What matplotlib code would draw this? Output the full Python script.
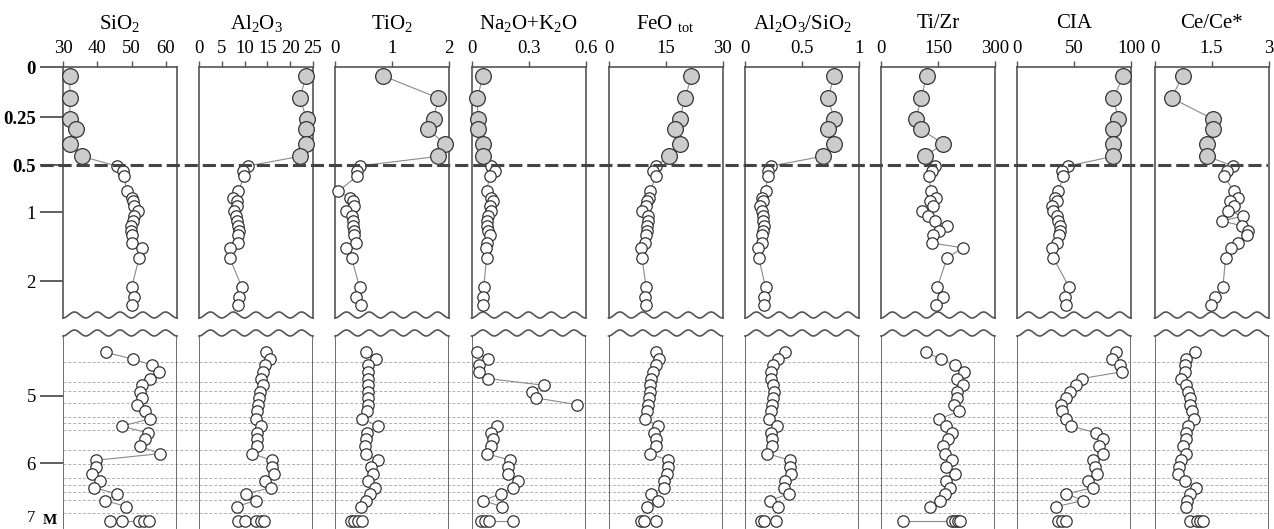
import numpy as np
import matplotlib
matplotlib.use("Agg")
import matplotlib.pyplot as plt

plt.rcParams['font.family'] = ['Liberation Serif', 'DejaVu Serif']
plt.rcParams['mathtext.fontset'] = 'custom'
plt.rcParams['mathtext.rm'] = 'Liberation Serif'
plt.rcParams['mathtext.it'] = 'Liberation Serif:italic'
plt.rcParams['mathtext.bf'] = 'Liberation Serif:bold'

# column headers, x ranges and top ticks
titles = ['SiO$_2$', 'Al$_2$O$_3$', 'TiO$_2$', 'Na$_2$O+K$_2$O', 'FeO $_{\\mathrm{tot}}$',
          'Al$_2$O$_3$/SiO$_2$', 'Ti/Zr', 'CIA', 'Ce/Ce*']
xlims = [(30, 63.2), (0, 25), (0, 2), (0, 0.6), (0, 30), (0, 1), (0, 300), (0, 100), (0, 3)]
xticks = [[30, 40, 50, 60], [0, 5, 10, 15, 20, 25], [0, 1, 2], [0, 0.3, 0.6], [0, 15, 30],
          [0, 0.5, 1], [0, 150, 300], [0, 50, 100], [0, 1.5, 3]]
xticklabels = [['30', '40', '50', '60'], ['0', '5', '10', '15', '20', '25'], ['0', '1', '2'],
               ['0', '0.3', '0.6'], ['0', '15', '30'], ['0', '0.5', '1'], ['0', '150', '300'],
               ['0', '50', '100'], ['0', '1.5', '3']]

# sample depths, m
top_depth = [0.045, 0.155, 0.26, 0.315, 0.39, 0.455]
mid_depth = [0.51, 0.56, 0.62, 0.78, 0.85, 0.88, 0.94, 0.99, 1.06, 1.13, 1.20, 1.27, 1.34,
             1.45, 1.52, 1.66, 2.09, 2.23, 2.35]
low_depth = [4.35, 4.45, 4.54, 4.64, 4.74, 4.84, 4.94, 5.03, 5.13, 5.23, 5.34, 5.45, 5.55,
             5.64, 5.75, 5.86, 5.96, 6.06, 6.16, 6.27, 6.37, 6.46, 6.56, 6.65]
m_depth = 6.87
grid_depth = [4.50, 4.79, 4.92, 5.10, 5.31, 5.41, 5.51, 5.80, 6.01, 6.23, 6.33, 6.44, 6.55, 6.74]

nan = np.nan

sio2_top = [32.0, 32.0, 32.0, 33.7, 32.0, 35.4]
sio2_mid = [45.6, 47.4, 47.8, 48.6, 50.0, 50.3, 50.6, 51.8, 50.8, 50.3, 49.7, 49.9, 50.0,
            50.2, 53.1, 52.2, 50.0, 50.7, 50.2]
sio2_low = [42.5, 50.5, 56.0, 58.1, 55.2, 52.9, 52.4, 52.9, 51.5, 53.9, 55.4, 47.1, 54.7,
            53.9, 52.4, 58.3, 39.5, 39.5, 38.4, 40.8, 39.1, 45.8, 42.3, 48.4]
sio2_m = [43.7, 47.3, 52.2, 53.5, 55.0]

al2o3_top = [23.5, 22.1, 23.6, 23.5, 23.5, 22.1]
al2o3_mid = [10.8, 9.7, 9.9, 8.6, 7.5, 8.4, 8.3, 7.7, 8.1, 8.4, 8.6, 8.8, 8.5, 8.6, 6.8,
             6.7, 9.4, 8.8, 8.6]
al2o3_low = [14.8, 15.6, 14.5, 14.0, 13.5, 14.0, 13.4, 13.2, 13.0, 12.8, 12.5, 13.7, 12.8,
             12.8, 12.8, 11.7, 15.9, 15.9, 16.4, 14.5, 15.7, 10.3, 12.4, 8.3]
al2o3_m = [8.6, 10.0, 12.6, 13.6, 14.2]

tio2_top = [0.85, 1.81, 1.73, 1.63, 1.93, 1.81]
tio2_mid = [0.43, 0.39, 0.38, 0.06, 0.27, 0.32, 0.34, 0.20, 0.29, 0.32, 0.32, 0.34, 0.34,
            0.37, 0.20, 0.29, 0.43, 0.37, 0.45]
tio2_low = [0.54, 0.72, 0.58, 0.58, 0.58, 0.58, 0.58, 0.58, 0.58, 0.56, 0.47, 0.76, 0.56,
            0.54, 0.53, 0.54, 0.76, 0.64, 0.67, 0.58, 0.70, 0.61, 0.54, 0.45]
tio2_m = [0.28, 0.34, 0.41, 0.47]

alk_top = [0.061, 0.030, 0.035, 0.035, 0.058, 0.061]
alk_mid = [0.105, 0.123, 0.096, 0.079, 0.105, 0.111, 0.096, 0.100, 0.088, 0.084, 0.079,
           0.088, 0.096, 0.079, 0.075, 0.079, 0.065, 0.061, 0.061]
alk_low = [0.030, 0.088, 0.040, 0.040, 0.088, 0.381, 0.316, 0.342, 0.556, nan, nan, 0.132,
           0.105, 0.111, 0.105, 0.079, 0.205, 0.193, 0.193, 0.246, 0.219, 0.153, 0.061, 0.158]
alk_m = [0.05, 0.07, 0.09, 0.22]

feo_top = [21.8, 20.2, 18.7, 17.4, 18.7, 15.9]
feo_mid = [12.5, 11.7, 12.4, 11.0, 10.6, 10.1, 9.9, 8.8, 10.4, 10.4, 10.2, 10.1, 9.9, 9.5,
           8.6, 8.8, 9.9, 9.6, 9.9]
feo_low = [12.4, 13.4, 12.4, 11.7, 11.2, 10.8, 11.0, 10.6, 10.4, 10.1, 9.5, 13.0, 12.1,
           12.5, 12.4, 11.0, 15.6, 15.6, 15.4, 14.5, 14.7, 11.2, 13.0, 10.1]
feo_m = [8.6, 9.3, 12.5]

alsi_top = [0.78, 0.73, 0.78, 0.73, 0.78, 0.68]
alsi_mid = [0.23, 0.20, 0.20, 0.18, 0.15, 0.16, 0.13, 0.15, 0.16, 0.16, 0.17, 0.16, 0.15,
            0.15, 0.11, 0.12, 0.18, 0.17, 0.17]
alsi_low = [0.348, 0.289, 0.246, 0.225, 0.231, 0.246, 0.254, 0.246, 0.240, 0.225, 0.211,
            0.281, 0.231, 0.240, 0.240, 0.193, 0.398, 0.392, 0.406, 0.348, 0.339, 0.386,
            0.216, 0.289]
alsi_m = [0.14, 0.17, 0.27]

tizr_top = [120, 106, 92, 106, 164, 115]
tizr_mid = [142, 133, 126, 131, 146, 128, 137, 109, 124, 142, 174, 153, 137, 135, 216, 174,
            148, 162, 144]
tizr_low = [118, 159, 194, 218, 199, 216, 199, 201, 192, 206, 153, 171, 186, 177, 164, 168,
            186, 172, 194, 172, 181, 168, 155, 128]
tizr_m = [58, 186, 194, 203, 208]

cia_top = [93.3, 84.5, 88.9, 83.9, 84.5, 84.5]
cia_mid = [44.9, 39.6, 40.5, 36.4, 33.4, 34.9, 30.5, 32.0, 34.9, 36.4, 37.8, 37.8, 37.2,
           35.5, 31.1, 31.7, 45.7, 41.9, 42.8]
cia_low = [86.8, 83.0, 90.3, 91.8, 56.6, 51.6, 46.3, 42.8, 39.0, 39.9, 43.4, 47.8, 69.2,
           75.1, 72.2, 75.7, 66.9, 68.3, 69.8, 62.5, 66.3, 43.4, 58.1, 34.6]
cia_m = [36.1, 39.9, 43.4]

ce_top = [0.74, 0.45, 1.53, 1.55, 1.37, 1.39]
ce_mid = [2.06, 1.90, 1.84, 2.08, 2.21, 1.99, 2.08, 1.94, 2.32, 1.77, 2.30, 2.47, 2.43,
          2.21, 2.01, 1.87, 1.80, 1.59, 1.48]
ce_low = [1.06, 0.83, 0.80, 0.80, 0.69, 0.83, 0.89, 0.93, 0.93, 0.98, 1.04, 0.89, 0.84,
          0.83, 0.74, 0.83, 0.69, 0.65, 0.62, 0.80, 1.09, 0.93, 0.86, 0.83]
ce_m = [0.93, 1.11, 1.20, 1.28]

columns = [
    (sio2_top, sio2_mid, sio2_low, sio2_m),
    (al2o3_top, al2o3_mid, al2o3_low, al2o3_m),
    (tio2_top, tio2_mid, tio2_low, tio2_m),
    (alk_top, alk_mid, alk_low, alk_m),
    (feo_top, feo_mid, feo_low, feo_m),
    (alsi_top, alsi_mid, alsi_low, alsi_m),
    (tizr_top, tizr_mid, tizr_low, tizr_m),
    (cia_top, cia_mid, cia_low, cia_m),
    (ce_top, ce_mid, ce_low, ce_m),
]

# --- layout in pixels ---
W, H = 1274, 529
box_left = [63, 199, 335, 471.5, 608.5, 745, 881, 1017, 1154.5]
box_w = 114
up_top, up_bot = 67, 318
lo_top, lo_bot = 330, 529


def fx(px):
    return px / W


def fy(px):
    return 1 - px / H


# upper section has a stretched depth scale
knots_d = [-1, 0, 0.25, 0.5, 1, 2, 4]
knots_p = [-196, 0, 50, 98, 145, 214, 352]


def fwd(d):
    return np.interp(d, knots_d, knots_p)


def inv(p):
    return np.interp(p, knots_p, knots_d)


up_ylim = (2.536, 0)
lo_ylim = (6.985, 4.015)

SPINE = '#555555'
LINE = '#8a8a8a'
EDGE = '#333333'
GRAY = '#cccccc'
TXT = 13.5

fig = plt.figure(figsize=(W / 100, H / 100), dpi=100)

# light dashed sample lines behind the lower part
bg = fig.add_axes([fx(63), fy(lo_bot), fx(1268 - 63), (lo_bot - lo_top) / H])
bg.set_ylim(*lo_ylim)
bg.axis('off')
for d in grid_depth:
    bg.axhline(d, color='#b0b0b0', lw=0.7, dashes=(3, 2))

wx = np.linspace(0, 1, 400)
wave = (1 - np.cos(2 * np.pi * 5 * wx)) / 2

for i, (vt, vm, vl, vmm) in enumerate(columns):
    left = fx(box_left[i])
    w = fx(box_w)

    # ---- upper part ----
    au = fig.add_axes([left, fy(up_bot), w, (up_bot - up_top) / H])
    au.set_facecolor('none')
    au.set_yscale('function', functions=(fwd, inv))
    au.set_ylim(*up_ylim)
    au.set_xlim(*xlims[i])
    au.spines['bottom'].set_visible(False)
    for s in ['top', 'left', 'right']:
        au.spines[s].set_color(SPINE)
        au.spines[s].set_linewidth(1.2)
    au.plot(wx, wave * 6 / (up_bot - up_top), color=SPINE, lw=1.2,
            transform=au.transAxes, clip_on=False)
    au.xaxis.tick_top()
    au.set_xticks(xticks[i])
    au.set_xticklabels(xticklabels[i])
    au.tick_params(axis='x', direction='out', length=4.5, width=1.0, color=SPINE,
                   pad=3, labelsize=TXT)
    au.plot(vt + vm, top_depth + mid_depth, color=LINE, lw=0.8, zorder=2, clip_on=False)
    au.plot(vm, mid_depth, 'o', ms=8.2, mfc='white', mec=EDGE, mew=0.9, zorder=3,
            clip_on=False)
    au.plot(vt, top_depth, 'o', ms=11.3, mfc=GRAY, mec=EDGE, mew=0.9, zorder=4,
            clip_on=False)

    # ---- lower part ----
    al = fig.add_axes([left, fy(lo_bot), w, (lo_bot - lo_top) / H])
    al.set_facecolor('none')
    al.set_ylim(*lo_ylim)
    al.set_xlim(*xlims[i])
    for s in al.spines.values():
        s.set_visible(False)
    amp = 6 / (lo_bot - lo_top)
    al.plot(wx, 1 - amp + wave * amp, color=SPINE, lw=1.2, transform=al.transAxes,
            clip_on=False)
    al.plot([0, 0], [0, 1 - amp], color=SPINE, lw=1.2, transform=al.transAxes)
    al.plot([1, 1], [0, 1 - amp], color=SPINE, lw=1.2, transform=al.transAxes)
    al.set_xticks([])
    al.plot(vl, low_depth, color=LINE, lw=0.8, zorder=2)
    al.plot(vl, low_depth, 'o', ms=8.2, mfc='white', mec=EDGE, mew=0.9, zorder=3,
            clip_on=False)
    al.plot(vmm, [m_depth] * len(vmm), color=LINE, lw=0.8, zorder=2)
    al.plot(vmm, [m_depth] * len(vmm), 'o', ms=8.2, mfc='white', mec=EDGE, mew=0.9,
            zorder=3, clip_on=False)

    if i == 0:
        au.set_yticks([0, 0.25, 0.5, 1, 2])
        au.set_yticklabels(['0', '0.25', '0.5', '1', '2'])
        for lbl in au.get_yticklabels()[:3]:
            lbl.set_fontweight('bold')
        au.tick_params(axis='y', length=16.5, width=1.2, color='#444444', pad=3,
                       labelsize=TXT)
        al.set_yticks([5, 6])
        al.set_yticklabels(['5', '6'])
        al.tick_params(axis='y', length=16.5, width=1.2, color='#444444', pad=3,
                       labelsize=TXT)
    else:
        au.tick_params(axis='y', left=False, labelleft=False)
        al.tick_params(axis='y', left=False, labelleft=False)

    fig.text(fx(box_left[i] + box_w / 2), fy(23), titles[i], ha='center', va='center',
             fontsize=15)

# thick dashed boundary at 0.5 m
ov = fig.add_axes([fx(40), fy(up_bot), fx(1268 - 40), (up_bot - up_top) / H])
ov.set_yscale('function', functions=(fwd, inv))
ov.set_ylim(*up_ylim)
ov.axis('off')
ov.axhline(0.5, color='#444444', lw=2.2, dashes=(4.3, 1.6))

fig.text(fx(31), fy(526), '7', ha='center', va='bottom', fontsize=12)
fig.text(fx(50), fy(521), 'M', ha='center', va='center', fontsize=11, fontweight='bold')

fig.savefig('out.png', dpi=100)
